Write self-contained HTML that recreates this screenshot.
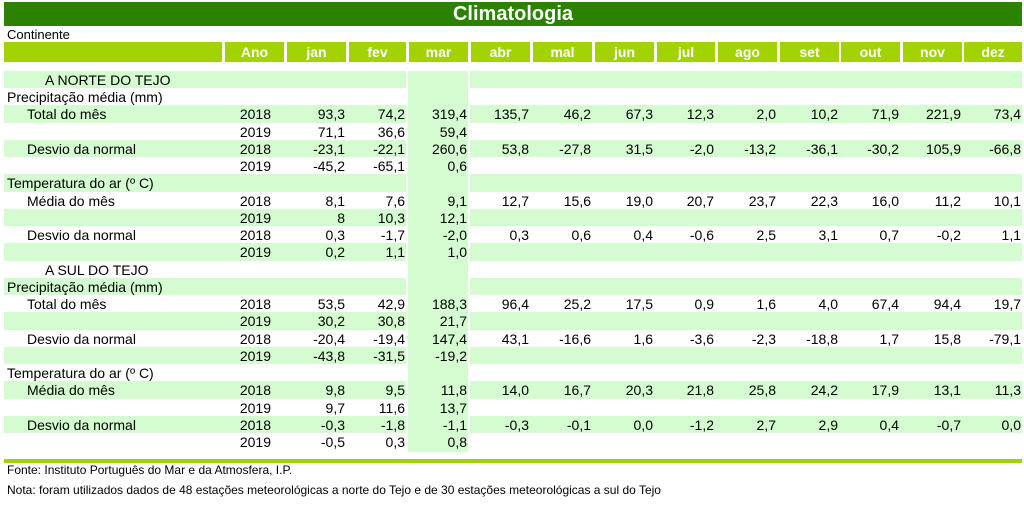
<!DOCTYPE html>
<html><head><meta charset="utf-8">
<style>
body{margin:0;width:1024px;height:507px;background:#fff;font-family:"Liberation Sans",Arial,sans-serif;position:relative;overflow:hidden}
.a{position:absolute;box-sizing:border-box;white-space:nowrap}
.t{font-size:14px;color:#000;line-height:19px}
</style></head><body>
<div class="a" style="left:4px;top:2px;width:1018px;height:24px;background:#2a8200;color:#fff;font-weight:bold;font-size:20px;text-align:center;line-height:24px">Climatologia</div>
<div class="a t" style="left:7px;top:25px;font-size:13px">Continente</div>
<div id="root"></div>
<div class="a" style="left:4px;top:459px;width:1018px;height:4px;background:#a2d200"></div>
<div class="a t" style="left:7px;top:461px;font-size:12px">Fonte: Instituto Português do Mar e da Atmosfera, I.P.</div>
<div class="a t" style="left:7px;top:481px;font-size:12px">Nota: foram utilizados dados de 48 estações meteorológicas a norte do Tejo e de 30 estações meteorológicas a sul do Tejo</div>
<script>
const headers=["Ano","jan","fev","mar","abr","mal","jun","jul","ago","set","out","nov","dez"];
const colL=[224,286,348,408,470,532,594,656,717,779,840,902,963];
const colR=[284,346,406,468,530,592,654,715,777,839,900,962,1022];
const labels=[["A NORTE DO TEJO",41],["Precipitação média (mm)",3],["Total do mês",23],["",0],["Desvio da normal",23],["",0],["Temperatura do ar (º C)",3],["Média do  mês",23],["",0],["Desvio da normal",23],["",0],
["A SUL DO TEJO",41],["Precipitação média (mm)",3],["Total do mês",23],["",0],["Desvio da normal",23],["",0],["Temperatura do ar (º C)",3],["Média do  mês",23],["",0],["Desvio da normal",23],["",0]];
const rows=[[],[],
["2018","93,3","74,2","319,4","135,7","46,2","67,3","12,3","2,0","10,2","71,9","221,9","73,4"],
["2019","71,1","36,6","59,4"],
["2018","-23,1","-22,1","260,6","53,8","-27,8","31,5","-2,0","-13,2","-36,1","-30,2","105,9","-66,8"],
["2019","-45,2","-65,1","0,6"],[],
["2018","8,1","7,6","9,1","12,7","15,6","19,0","20,7","23,7","22,3","16,0","11,2","10,1"],
["2019","8","10,3","12,1"],
["2018","0,3","-1,7","-2,0","0,3","0,6","0,4","-0,6","2,5","3,1","0,7","-0,2","1,1"],
["2019","0,2","1,1","1,0"],[],[],
["2018","53,5","42,9","188,3","96,4","25,2","17,5","0,9","1,6","4,0","67,4","94,4","19,7"],
["2019","30,2","30,8","21,7"],
["2018","-20,4","-19,4","147,4","43,1","-16,6","1,6","-3,6","-2,3","-18,8","1,7","15,8","-79,1"],
["2019","-43,8","-31,5","-19,2"],[],
["2018","9,8","9,5","11,8","14,0","16,7","20,3","21,8","25,8","24,2","17,9","13,1","11,3"],
["2019","9,7","11,6","13,7"],
["2018","-0,3","-1,8","-1,1","-0,3","-0,1","0,0","-1,2","2,7","2,9","0,4","-0,7","0,0"],
["2019","-0,5","0,3","0,8"]];
const root=document.getElementById('root');
function box(x,y,w,h,bg,txt,align,name,extra){
  const d=document.createElement('div');
  d.className='a t';
  d.style.cssText=`left:${x}px;top:${y}px;width:${w}px;height:${h}px;background:${bg};text-align:${align};${extra||''}`;
  d.textContent=txt;
  
  
  root.appendChild(d);return d;
}
box(4,42,218,20,'#a2d200','','left','header-label-cell');
headers.forEach((h,i)=>{box(colL[i]+1,42,colR[i]-colL[i]-1,20,'#a2d200',h,'center','header-'+h,'color:#fff;font-weight:bold;line-height:20px;font-size:14px');});
box(408,71,60,381,'#d4fcd0','','left','mar-column-shade');
const RH=17.24, R0=71;
labels.forEach((l,i)=>{
  const y=R0+i*RH;
  if(i%2===0){
    box(4,y,402,17.3,'#d4fcd0','','left','row-shade-left');
    box(470,y,552,17.3,'#d4fcd0','','left','row-shade-right');
  }
  if(l[0]) box(4,y,220,17,'transparent',l[0],'left','row-label','padding-left:'+l[1]+'px');
  (rows[i]||[]).forEach((v,j)=>{
    const w = j===0?60:62;
    box(colR[j]-w,y,w,17,'transparent',v,'right','cell-'+headers[j],'padding-right:'+(j===0?13:1)+'px');
  });
});
</script>
</body></html>
